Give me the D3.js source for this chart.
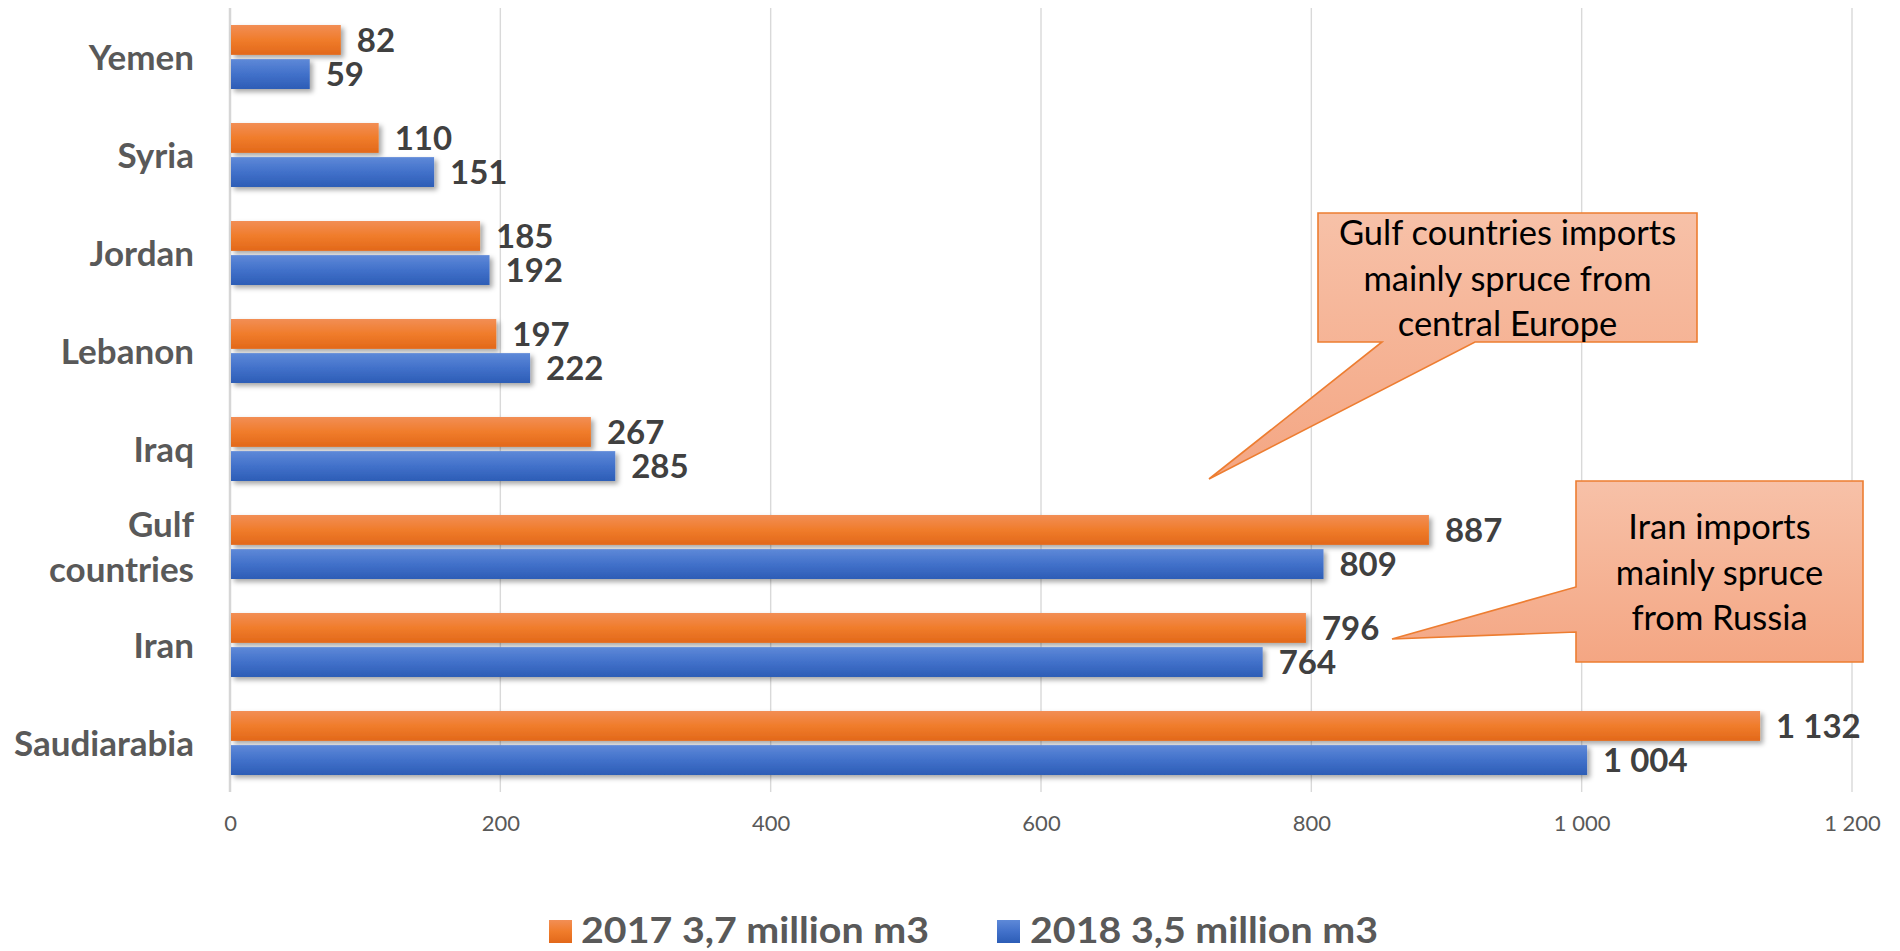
<!DOCTYPE html>
<html>
<head>
<meta charset="utf-8">
<script src="https://cdn.jsdelivr.net/npm/d3@7"></script>
<style>
  html, body { margin: 0; padding: 0; background: #ffffff; }
  svg { display: block; }
</style>
</head>
<body>
<svg id="chart" width="1900" height="951"></svg>
<script>
// ---- data ----
const categories = ["Yemen", "Syria", "Jordan", "Lebanon", "Iraq", "Gulf countries", "Iran", "Saudiarabia"];
const values2017 = [82, 110, 185, 197, 267, 887, 796, 1132];
const values2018 = [59, 151, 192, 222, 285, 809, 764, 1004];
const seriesKeys = ["2017", "2018"];
const seriesLabels = ["2017 3,7 million m3", "2018 3,5 million m3"];
const xTickValues = [0, 200, 400, 600, 800, 1000, 1200];
const gulfNote = ["Gulf countries imports", "mainly spruce from", "central Europe"];
const iranNote = ["Iran imports", "mainly spruce", "from Russia"];

// ---- layout ----
const plot = { left: 230, right: 1852, top: 8, bottom: 792 };
const FONT = "Lato, 'Open Sans', 'DejaVu Sans', sans-serif";

const svg = d3.select("#chart");
const defs = svg.append("defs");

function vGradient(id, stops) {
  const g = defs.append("linearGradient").attr("id", id)
    .attr("x1", 0).attr("y1", 0).attr("x2", 0).attr("y2", 1);
  stops.forEach(([o, c]) => g.append("stop").attr("offset", o).attr("stop-color", c));
}
vGradient("gradOrange", [["0%", "#F28E55"], ["50%", "#F07C2B"], ["100%", "#E2681A"]]);
vGradient("gradBlue", [["0%", "#5E89D8"], ["50%", "#4271CA"], ["100%", "#2C5DB6"]]);
vGradient("gradNote", [["0%", "#F7C1A8"], ["100%", "#F4A683"]]);

const shadow = defs.append("filter").attr("id", "barShadow")
  .attr("x", "-5%").attr("y", "-30%").attr("width", "115%").attr("height", "180%");
shadow.append("feDropShadow")
  .attr("dx", 3).attr("dy", 3).attr("stdDeviation", 2.5)
  .attr("flood-color", "#000").attr("flood-opacity", 0.35);

const series = [
  { key: seriesKeys[0], label: seriesLabels[0], values: values2017, fill: "url(#gradOrange)" },
  { key: seriesKeys[1], label: seriesLabels[1], values: values2018, fill: "url(#gradBlue)" }
];

// ---- scales ----
const x = d3.scaleLinear().domain([0, 1200]).range([plot.left, plot.right]);
const y = d3.scaleBand().domain(categories).range([plot.top, plot.bottom])
  .paddingInner(0.347).paddingOuter(0.1735);
const ySub = d3.scaleBand().domain(seriesKeys).range([0, y.bandwidth()]).paddingInner(0.125);

const fmt = d3.formatLocale({ decimal: ",", thousands: " ", grouping: [3], currency: ["", ""] }).format(",d");

// ---- gridlines ----
svg.append("g").selectAll("line").data(xTickValues.slice(1)).join("line")
  .attr("x1", d => x(d)).attr("x2", d => x(d))
  .attr("y1", plot.top).attr("y2", plot.bottom)
  .attr("stroke", "#D9D9D9").attr("stroke-width", 1.4);

// category axis line
svg.append("line")
  .attr("x1", x(0)).attr("x2", x(0))
  .attr("y1", plot.top).attr("y2", plot.bottom)
  .attr("stroke", "#D6D6D6").attr("stroke-width", 2.5);

// ---- x axis labels ----
const xAxis = d3.axisBottom(x).tickValues(xTickValues).tickSize(0).tickFormat(fmt);
const xg = svg.append("g").attr("transform", `translate(0,831)`).call(xAxis);
xg.select(".domain").remove();
xg.selectAll("text")
  .attr("y", 0).attr("dy", 0)
  .attr("fill", "#595959")
  .style("font-family", FONT).style("font-size", "22px").style("font-weight", 400);

// ---- bars ----
const groups = svg.append("g").selectAll("g").data(categories).join("g")
  .attr("transform", d => `translate(0,${y(d)})`);

groups.selectAll("rect")
  .data((c, i) => series.map(s => ({ key: s.key, value: s.values[i], fill: s.fill })))
  .join("rect")
  .attr("x", x(0) + 1)
  .attr("y", d => ySub(d.key))
  .attr("width", d => x(d.value) - x(0) - 1)
  .attr("height", ySub.bandwidth())
  .attr("fill", d => d.fill)
  .attr("filter", "url(#barShadow)");

// value labels
groups.selectAll("text.value")
  .data((c, i) => series.map(s => ({ key: s.key, value: s.values[i] })))
  .join("text").attr("class", "value")
  .attr("x", d => x(d.value) + 16)
  .attr("y", d => ySub(d.key) + ySub.bandwidth() / 2 + 12)
  .attr("fill", "#404040")
  .style("font-family", FONT).style("font-size", "33px").style("font-weight", 700)
  .text(d => fmt(d.value));

// ---- category labels ----
const catLabels = svg.append("g").selectAll("text").data(categories).join("text")
  .attr("text-anchor", "end")
  .attr("fill", "#595959")
  .style("font-family", FONT).style("font-size", "35px").style("font-weight", 700);

catLabels.each(function (d) {
  const lines = d.split(" ");
  const cy = y(d) + y.bandwidth() / 2 + 12.5;
  const lh = 45;
  const t = d3.select(this);
  lines.forEach((ln, k) => {
    t.append("tspan")
      .attr("x", 194)
      .attr("y", cy + (k - (lines.length - 1) / 2) * lh)
      .text(ln);
  });
});

// ---- callouts ----
function callout(pathD, lines, cx, firstBaseline) {
  const g = svg.append("g");
  g.append("path").attr("d", pathD)
    .attr("fill", "url(#gradNote)")
    .attr("stroke", "#ED7D31").attr("stroke-width", 1.6)
    .attr("stroke-linejoin", "miter");
  g.append("g").selectAll("text").data(lines).join("text")
    .attr("x", cx)
    .attr("y", (d, i) => firstBaseline + i * 45.5)
    .attr("text-anchor", "middle")
    .attr("fill", "#000000")
    .style("font-family", FONT).style("font-size", "34.5px").style("font-weight", 400)
    .text(d => d);
}

callout("M1318,213 H1697 V342 H1475 L1209,479 L1382,342 H1318 Z", gulfNote, 1507.5, 245);
callout("M1576,481 H1863 V662 H1576 V632 L1392,639 L1576,587 Z", iranNote, 1719.5, 539);

// ---- legend ----
const legendPos = [{ sq: 549, tx: 581 }, { sq: 997, tx: 1030 }];
const legend = svg.append("g").selectAll("g").data(series).join("g");
legend.append("rect")
  .attr("x", (d, i) => legendPos[i].sq).attr("y", 920)
  .attr("width", 23).attr("height", 23)
  .attr("fill", d => d.fill);
legend.append("text")
  .attr("x", (d, i) => legendPos[i].tx).attr("y", 943)
  .attr("fill", "#595959")
  .attr("textLength", 348).attr("lengthAdjust", "spacingAndGlyphs")
  .style("font-family", FONT).style("font-size", "37px").style("font-weight", 700)
  .text(d => d.label);
</script>
</body>
</html>
